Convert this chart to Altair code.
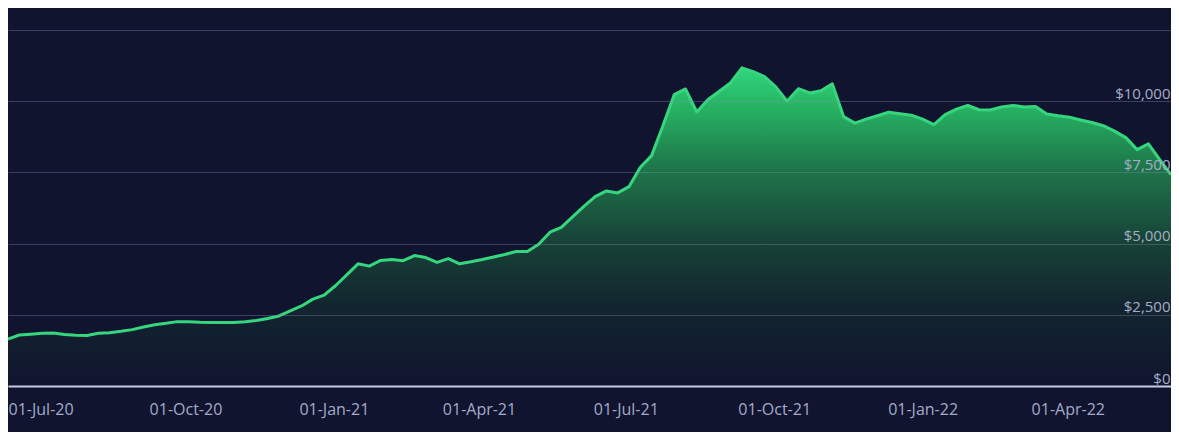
import altair as alt
import pandas as pd

# Weekly series, first week starting 13-Jun-2020
start_date = "2020-06-13"
values = [
    1650, 1790, 1820, 1850, 1860, 1810, 1780, 1770, 1850, 1870,
    1920, 1980, 2070, 2150, 2200, 2260, 2260, 2240, 2230, 2230,
    2230, 2260, 2300, 2370, 2460, 2640, 2810, 3050, 3190, 3520,
    3900, 4290, 4210, 4410, 4440, 4400, 4580, 4510, 4340, 4470,
    4290, 4360, 4440, 4530, 4620, 4720, 4720, 4980, 5400, 5570,
    5940, 6310, 6650, 6850, 6780, 7000, 7680, 8090, 9140, 10230,
    10430, 9620, 10060, 10350, 10650, 11170, 11040, 10860, 10500, 10000,
    10440, 10290, 10370, 10610, 9460, 9230, 9370, 9490, 9610, 9560,
    9510, 9370, 9180, 9530, 9720, 9850, 9700, 9690, 9800, 9850,
    9800, 9810, 9550, 9490, 9440, 9340, 9250, 9140, 8950, 8720,
    8300, 8500, 7950, 7420,
]
dates = pd.date_range(start_date, periods=len(values), freq="7D")
df = pd.DataFrame({"date": dates, "value": values})

x_tick_dates = [
    (2020, 7), (2020, 10), (2021, 1), (2021, 4),
    (2021, 7), (2021, 10), (2022, 1), (2022, 4),
]
y_ticks = [0, 2500, 5000, 7500, 10000, 12500]

BG = "#10142e"
LINE = "#36d67e"

gradient = alt.Gradient(
    gradient="linear",
    stops=[
        alt.GradientStop(color=BG, offset=0),
        alt.GradientStop(color="#12252f", offset=0.25),
        alt.GradientStop(color="#174237", offset=0.45),
        alt.GradientStop(color="#1f7a4c", offset=0.7),
        alt.GradientStop(color="#27b463", offset=0.88),
        alt.GradientStop(color="#2fd67c", offset=1),
    ],
    x1=1, x2=1, y1=1, y2=0,
)

chart = (
    alt.Chart(df)
    .mark_area(
        color=gradient,
        opacity=1,
        line=alt.OverlayMarkDef(color=LINE, strokeWidth=3, strokeJoin="round", opacity=1),
    )
    .encode(
        x=alt.X(
            "date:T",
            scale=alt.Scale(nice=False),
            axis=alt.Axis(
                title=None,
                values=[alt.DateTime(year=y, month=m, date=1) for y, m in x_tick_dates],
                format="%d-%b-%y",
                grid=False,
                ticks=False,
                tickSize=0,
                domainColor="#c8cce2",
                domainWidth=2,
                labelPadding=15,
                labelFontSize=16,
                labelFont="Open Sans",
                labelColor="#a4abc8",
                labelFlush=40,
                labelFlushOffset=29,
                zindex=1,
            ),
        ),
        y=alt.Y(
            "value:Q",
            scale=alt.Scale(domain=[0, 12500], nice=False),
            axis=alt.Axis(
                title=None,
                orient="right",
                values=y_ticks,
                labelExpr="datum.value >= 12500 ? '' : '$' + format(datum.value, ',')",
                grid=True,
                gridColor="#8088b0",
                gridOpacity=0.38,
                gridWidth=1,
                domain=False,
                ticks=False,
                tickSize=0,
                labelAlign="right",
                labelBaseline="alphabetic",
                labelPadding=-1,
                labelOffset=-3,
                labelFontSize=15,
                labelFont="Open Sans",
                labelColor="#a6adc6",
                zindex=1,
            ),
        ),
    )
    .properties(
        width=1163,
        height=356,
        padding={"left": 0, "right": 0, "top": 22, "bottom": 46},
        autosize=alt.AutoSizeParams(type="none"),
    )
    .configure(background=BG)
    .configure_view(stroke=None)
)

chart.save("out.html", embed_options={"renderer": "svg", "actions": False})
